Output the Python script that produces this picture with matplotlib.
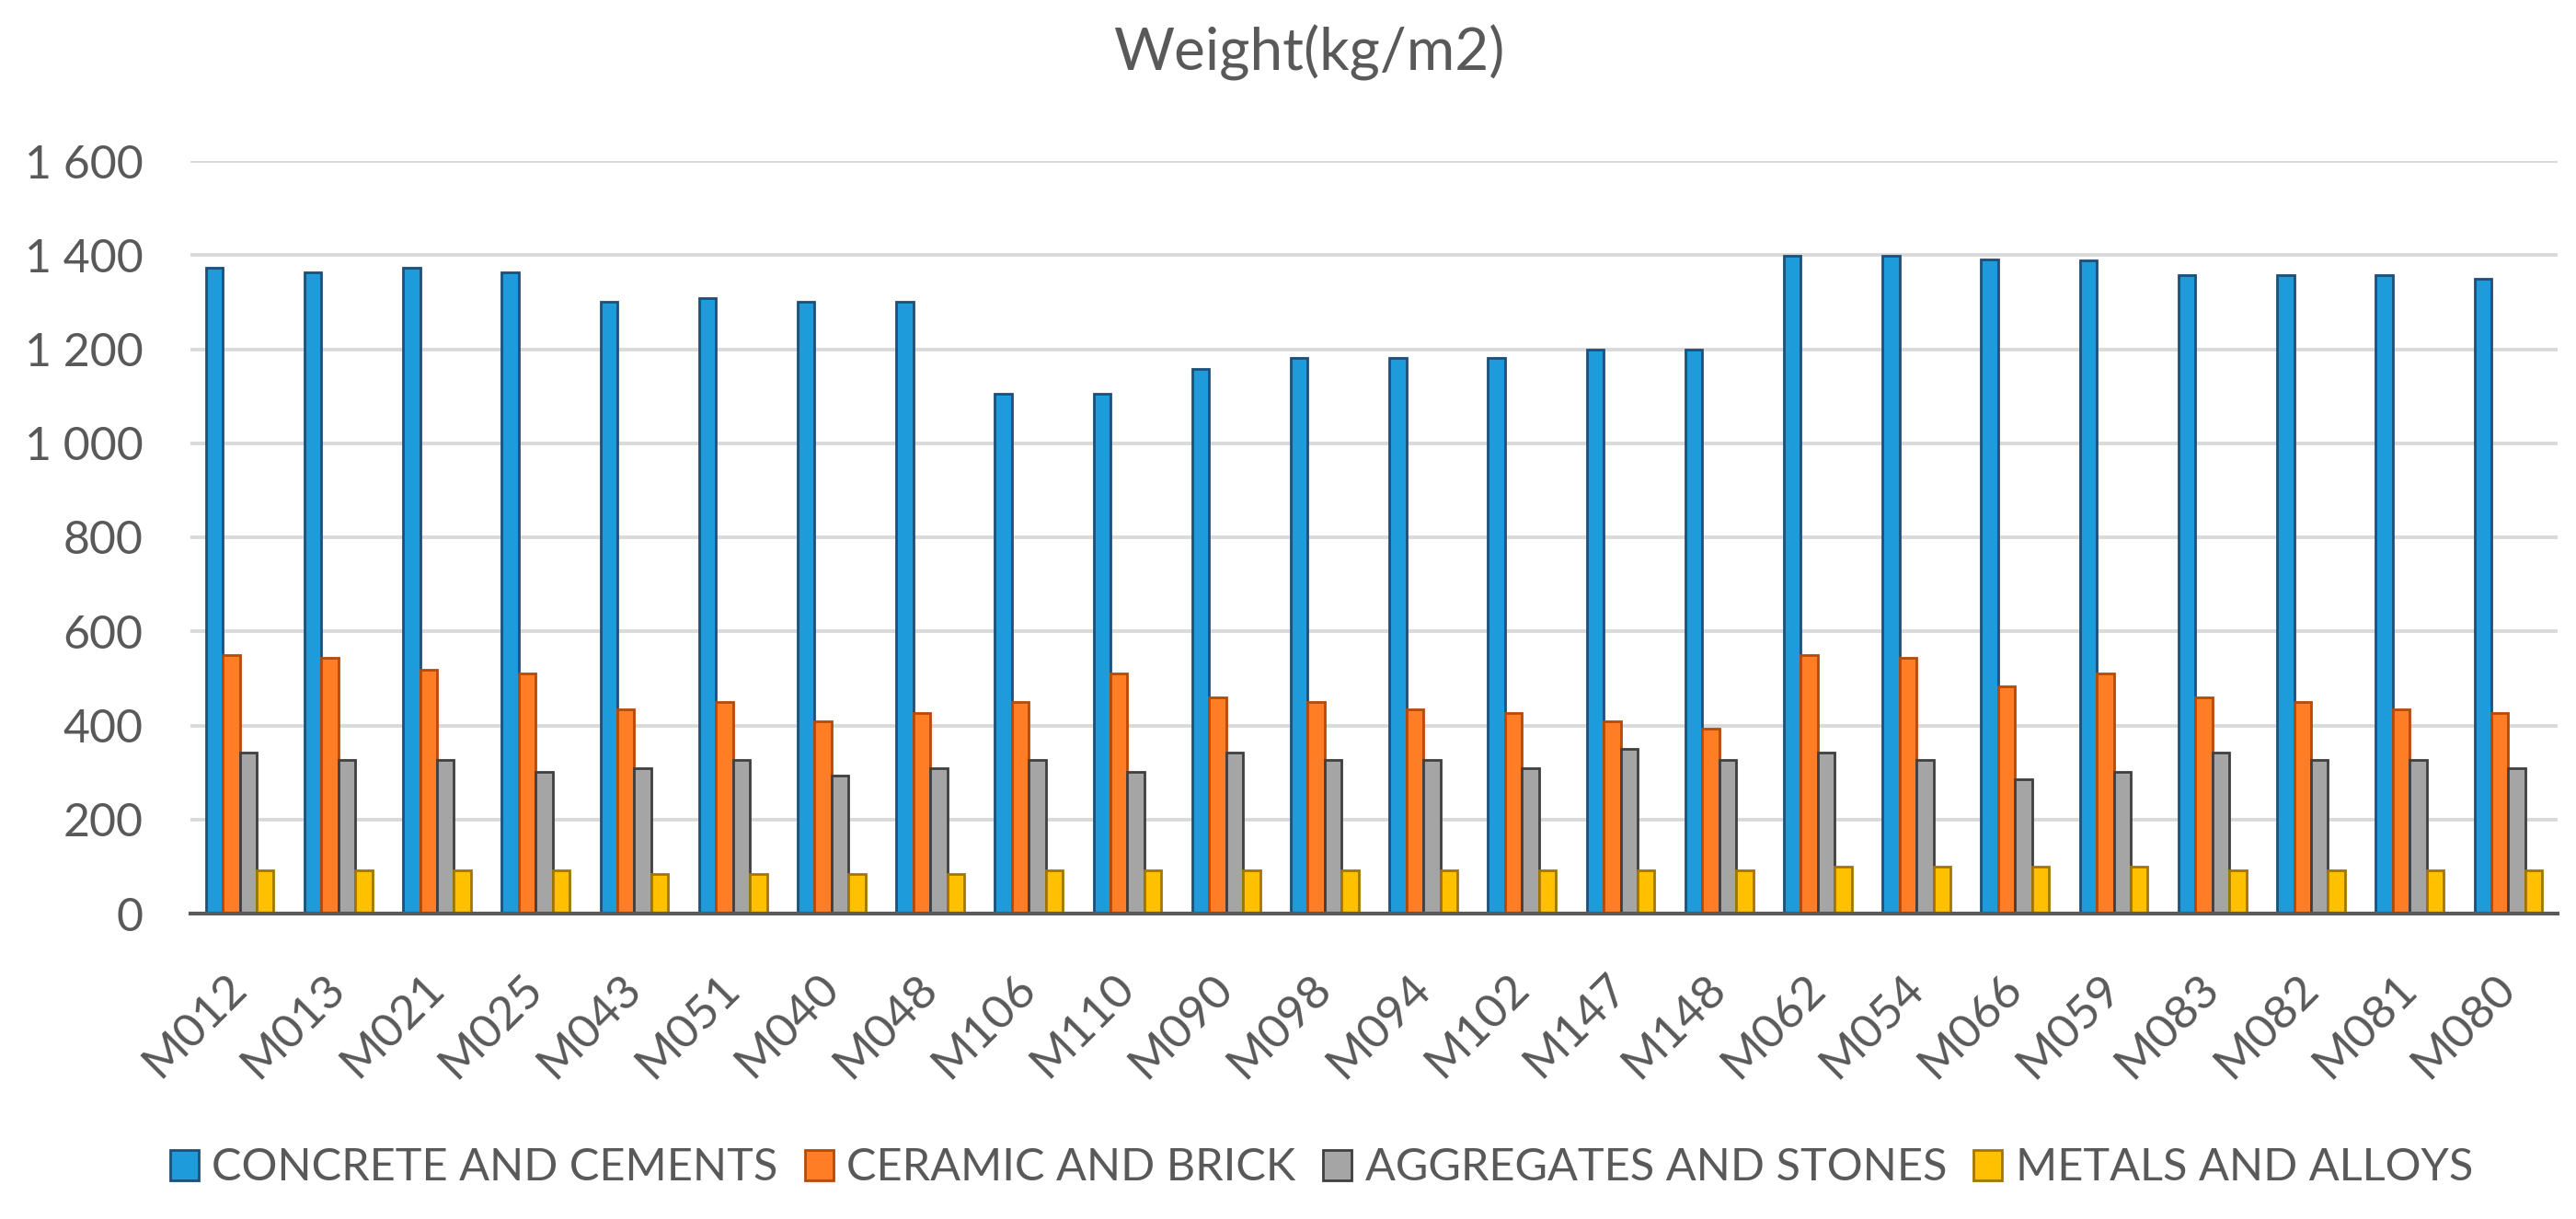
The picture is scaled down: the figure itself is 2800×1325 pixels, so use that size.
import numpy as np
import matplotlib.pyplot as plt
from matplotlib.ticker import FuncFormatter, MultipleLocator

plt.rcParams['font.family'] = ['Lato', 'DejaVu Sans']

codes = ['M012', 'M013', 'M021', 'M025', 'M043', 'M051', 'M040', 'M048',
         'M106', 'M110', 'M090', 'M098', 'M094', 'M102', 'M147', 'M148',
         'M062', 'M054', 'M066', 'M059', 'M083', 'M082', 'M081', 'M080']
concrete = [1373, 1364, 1373, 1364, 1300, 1308, 1300, 1300, 1106, 1106, 1157, 1181,
            1181, 1181, 1199, 1199, 1399, 1399, 1391, 1389, 1358, 1358, 1358, 1350]
ceramic = [550, 543, 518, 510, 434, 450, 409, 426, 450, 510, 459, 450,
           434, 426, 409, 393, 550, 543, 484, 510, 459, 450, 434, 426]
aggregates = [343, 327, 327, 301, 310, 327, 293, 310, 327, 301, 343, 327,
              327, 310, 351, 327, 343, 327, 285, 301, 343, 327, 327, 310]
metals = [92, 92, 92, 92, 84, 84, 84, 84, 92, 92, 92, 92,
          92, 92, 92, 92, 100, 100, 100, 100, 92, 92, 92, 92]

names = ['CONCRETE AND CEMENTS', 'CERAMIC AND BRICK',
         'AGGREGATES AND STONES', 'METALS AND ALLOYS']
fills = ['#1D9BDB', '#FF7D24', '#A5A5A5', '#FFC000']
edges = ['#1F4E79', '#B84A05', '#3F3F3F', '#A07800']

txt = '#595959'

fig = plt.figure(figsize=(28, 13.25), dpi=100)
ax = fig.add_axes([207 / 2800, 1 - 993 / 1325, (2780 - 207) / 2800, (993 - 175) / 1325])

x = np.arange(len(codes))
w = 0.172
series = [concrete, ceramic, aggregates, metals]
for i, vals in enumerate(series):
    ax.bar(x + (i - 1.5) * w, vals, w, color=fills[i], edgecolor=edges[i],
           linewidth=2.0, label=names[i], zorder=3)

ax.set_xlim(-0.5, len(codes) - 0.5)
ax.set_ylim(0, 1600)
ax.yaxis.set_major_locator(MultipleLocator(200))
ax.yaxis.set_major_formatter(FuncFormatter(lambda v, p: f'{int(v):,}'.replace(',', ' ')))
ax.grid(True, axis='y', color='#D9D9D9', linewidth=2.8, zorder=0)

for s in ['top', 'right', 'left']:
    ax.spines[s].set_visible(False)
ax.spines['bottom'].set_color(txt)
ax.spines['bottom'].set_linewidth(3)
ax.spines['bottom'].set_zorder(4)

ax.set_xticks(x)
ax.set_xticklabels(codes, rotation=45, ha='right', va='center', rotation_mode='anchor')
ax.tick_params(axis='x', length=0, pad=53, labelsize=37, labelcolor=txt)
ax.tick_params(axis='y', length=0, pad=37, labelsize=36, labelcolor=txt)

fig.text(0.508, 1 - 76 / 1325, 'Weight(kg/m2)', ha='center', va='baseline',
         fontsize=46, color=txt)

fig.legend(loc='center', bbox_to_anchor=(0.513, 0.042), ncol=4, frameon=False,
           fontsize=35, labelcolor=txt, handlelength=0.64, handleheight=0.66,
           handletextpad=0.3, columnspacing=0.6)

fig.savefig('out.png', dpi=100)
